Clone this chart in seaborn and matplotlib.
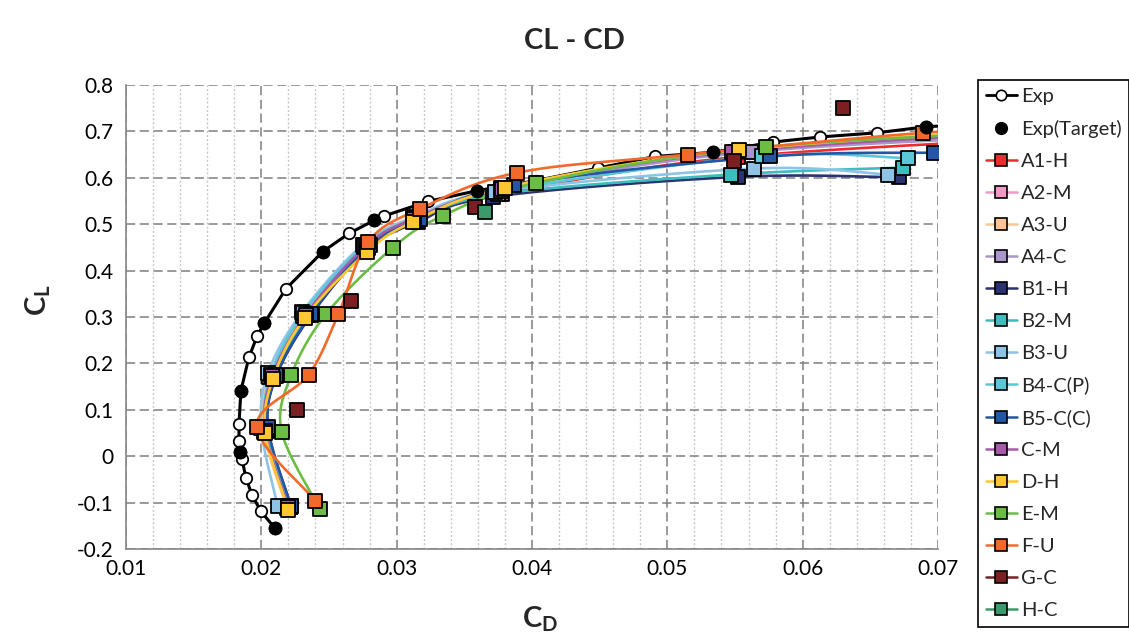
import numpy as np
import matplotlib
matplotlib.use("Agg")
import matplotlib.pyplot as plt
import seaborn as sns
from matplotlib.lines import Line2D
from matplotlib.ticker import MultipleLocator, FuncFormatter

sns.set_theme(style="white")
plt.rcParams['font.family'] = ['Lato', 'DejaVu Sans']
plt.rcParams['mathtext.fontset'] = 'custom'
plt.rcParams['mathtext.bf'] = 'Lato:bold'
plt.rcParams['mathtext.rm'] = 'Lato'
plt.rcParams['mathtext.it'] = 'Lato:italic'

# ---------------- data ----------------
exp_cd = [0.0210, 0.01997, 0.0193, 0.01886, 0.01857, 0.01842, 0.01835, 0.01835, 0.01849,
          0.01908, 0.01968, 0.0202, 0.02182, 0.02455, 0.02647, 0.02832, 0.0291, 0.0323,
          0.0359, 0.0403, 0.0449, 0.0491, 0.0534, 0.0578, 0.0613, 0.0655, 0.0691, 0.0730]
exp_cl = [-0.155, -0.119, -0.083, -0.046, -0.007, 0.010, 0.032, 0.070, 0.141,
          0.213, 0.258, 0.286, 0.361, 0.441, 0.480, 0.508, 0.518, 0.549,
          0.572, 0.594, 0.621, 0.646, 0.655, 0.677, 0.688, 0.697, 0.710, 0.716]
target_cd = [0.0210, 0.01842, 0.01849, 0.0202, 0.02455, 0.02832, 0.0359, 0.0534, 0.0691]
target_cl = [-0.155, 0.010, 0.141, 0.286, 0.441, 0.508, 0.572, 0.655, 0.710]

a1_cd = [0.0221, 0.0204, 0.0209, 0.0234, 0.0277, 0.0314, 0.0378, 0.0552, 0.0850]
a1_cl = [-0.110, 0.055, 0.172, 0.305, 0.452, 0.512, 0.565, 0.645, 0.695]
a2_cd = [0.0220, 0.0203, 0.0207, 0.0232, 0.0276, 0.0312, 0.0378, 0.0550, 0.0850]
a2_cl = [-0.108, 0.057, 0.175, 0.307, 0.455, 0.515, 0.575, 0.655, 0.710]
a3_cd = [0.0219, 0.0202, 0.0206, 0.0231, 0.0276, 0.0312, 0.0377, 0.0553, 0.0850]
a3_cl = [-0.112, 0.052, 0.170, 0.303, 0.450, 0.512, 0.578, 0.657, 0.715]
a4_cd = [0.0221, 0.0204, 0.0208, 0.0233, 0.0277, 0.0313, 0.0378, 0.0562, 0.0850]
a4_cl = [-0.109, 0.056, 0.173, 0.306, 0.452, 0.512, 0.574, 0.656, 0.700]
b1_cd = [0.0222, 0.0205, 0.0211, 0.0237, 0.0279, 0.0316, 0.0371, 0.0552, 0.0671]
b1_cl = [-0.108, 0.058, 0.172, 0.305, 0.448, 0.505, 0.559, 0.602, 0.601]
b2_cd = [0.0221, 0.0204, 0.0209, 0.0235, 0.0278, 0.0315, 0.0375, 0.0547, 0.0674]
b2_cl = [-0.109, 0.057, 0.174, 0.306, 0.452, 0.510, 0.565, 0.607, 0.622]
b3_cd = [0.0212, 0.0200, 0.0205, 0.0230, 0.0275, 0.0312, 0.0373, 0.0564, 0.0663]
b3_cl = [-0.107, 0.060, 0.180, 0.310, 0.456, 0.513, 0.570, 0.620, 0.607]
b4_cd = [0.0220, 0.0203, 0.0207, 0.0231, 0.0276, 0.0313, 0.0377, 0.0570, 0.0678]
b4_cl = [-0.109, 0.057, 0.176, 0.308, 0.454, 0.512, 0.572, 0.647, 0.642]
b5_cd = [0.0222, 0.0205, 0.0211, 0.0237, 0.0280, 0.0317, 0.0387, 0.0576, 0.0697]
b5_cl = [-0.108, 0.062, 0.174, 0.307, 0.455, 0.512, 0.585, 0.646, 0.654]
cm_cd = [0.0220, 0.0203, 0.0208, 0.0233, 0.0277, 0.0313, 0.0378, 0.0548, 0.0850]
cm_cl = [-0.110, 0.055, 0.172, 0.305, 0.452, 0.512, 0.575, 0.656, 0.710]
dh_cd = [0.0220, 0.0203, 0.02086, 0.0232, 0.0278, 0.0312, 0.0380, 0.0553, 0.0850]
dh_cl = [-0.115, 0.049, 0.167, 0.298, 0.440, 0.505, 0.579, 0.660, 0.720]
em_cd = [0.0243, 0.0215, 0.0222, 0.0248, 0.0297, 0.0334, 0.0403, 0.0573, 0.0850]
em_cl = [-0.113, 0.053, 0.174, 0.307, 0.449, 0.518, 0.589, 0.667, 0.710]
fu_cd = [0.0240, 0.01966, 0.0235, 0.0257, 0.0279, 0.0317, 0.0389, 0.0515, 0.0689, 0.0850]
fu_cl = [-0.096, 0.064, 0.176, 0.307, 0.462, 0.533, 0.611, 0.650, 0.697, 0.725]
gc_cd = [0.0226, 0.0266, 0.0358, 0.0549, 0.0630]
gc_cl = [0.100, 0.335, 0.538, 0.637, 0.751]
hc_cd = [0.0365]
hc_cl = [0.527]

names = ["A1-H", "A2-M", "A3-U", "A4-C", "B1-H", "B2-M", "B3-U", "B4-C(P)", "B5-C(C)",
         "C-M", "D-H", "E-M", "F-U", "G-C", "H-C"]
colors = ["#EE2B2F", "#F29AC6", "#FBC597", "#A897C8", "#2B3270", "#3DBDBD", "#8FC3E6",
          "#5CC8D7", "#2456A6", "#A55BA8", "#FDC82F", "#6CBD45", "#F26A2B", "#7B1F22", "#3A9A6D"]
cds = [a1_cd, a2_cd, a3_cd, a4_cd, b1_cd, b2_cd, b3_cd, b4_cd, b5_cd, cm_cd, dh_cd, em_cd, fu_cd, gc_cd, hc_cd]
cls = [a1_cl, a2_cl, a3_cl, a4_cl, b1_cl, b2_cl, b3_cl, b4_cl, b5_cl, cm_cl, dh_cl, em_cl, fu_cl, gc_cl, hc_cl]
has_line = [True] * 13 + [False, False]

# ---------------- helpers ----------------
W_PX, H_PX = 812.0, 464.0


def smooth(xs, ys, n=30):
    """Excel-like smoothed line (cubic Bezier / Catmull-Rom in screen space)."""
    xs = np.asarray(xs, float)
    ys = np.asarray(ys, float)
    if len(xs) < 3:
        return xs, ys
    P = np.column_stack([(xs - 0.01) / 0.06 * W_PX, (ys + 0.2) * H_PX])
    P = np.vstack([P[0], P, P[-1]])
    out = []
    t = np.linspace(0, 1, n, endpoint=False)[:, None]
    for i in range(1, len(P) - 2):
        p0, p1, p2, p3 = P[i - 1], P[i], P[i + 1], P[i + 2]
        c1 = p1 + (p2 - p0) / 6.0
        c2 = p2 - (p3 - p1) / 6.0
        b = (1 - t) ** 3 * p1 + 3 * (1 - t) ** 2 * t * c1 + 3 * (1 - t) * t ** 2 * c2 + t ** 3 * p2
        out.append(b)
    out.append(P[-2][None, :])
    B = np.vstack(out)
    return B[:, 0] / W_PX * 0.06 + 0.01, B[:, 1] / H_PX - 0.2


# ---------------- figure ----------------
fig = plt.figure(figsize=(11.29, 6.41), dpi=100)
ax = fig.add_axes([126 / 1129, 1 - 549 / 641, (938 - 126) / 1129, (549 - 85) / 641])

# Exp
sns.lineplot(x=exp_cd, y=exp_cl, sort=False, estimator=None, color="black", linewidth=2.2,
             ax=ax, legend=False, zorder=2)
sns.scatterplot(x=exp_cd, y=exp_cl, marker="o", s=68, color="white", edgecolor="black",
                linewidth=1.3, ax=ax, legend=False, zorder=3)

# models
for k, (nm, c, xs, ys, hl) in enumerate(zip(names, colors, cds, cls, has_line)):
    if hl:
        sx, sy = smooth(xs, ys)
        sns.lineplot(x=sx, y=sy, sort=False, estimator=None, color=c, linewidth=1.9,
                     ax=ax, legend=False, zorder=4 + k * 0.01)
for k, (nm, c, xs, ys) in enumerate(zip(names, colors, cds, cls)):
    sns.scatterplot(x=xs, y=ys, marker="s", s=110, color=c, edgecolor="black",
                    linewidth=1.3, ax=ax, legend=False, zorder=5 + k * 0.01)

# targets on top
sns.scatterplot(x=target_cd, y=target_cl, marker="o", s=90, color="black", edgecolor="black",
                linewidth=0.5, ax=ax, legend=False, zorder=6)

ax.set_xlim(0.01, 0.07)
ax.set_ylim(-0.2, 0.8)
ax.xaxis.set_major_locator(MultipleLocator(0.01))
ax.xaxis.set_minor_locator(MultipleLocator(0.002))
ax.yaxis.set_major_locator(MultipleLocator(0.1))
ax.xaxis.set_major_formatter(FuncFormatter(lambda v, p: f"{v:.2f}"))
ax.yaxis.set_major_formatter(FuncFormatter(lambda v, p: "0" if abs(v) < 1e-9 else f"{v:.1f}"))

ax.grid(which="major", axis="both", color="#7F7F7F", linestyle=(0, (6, 3)), linewidth=1.1)
ax.grid(which="minor", axis="x", color="#C8C8C8", linestyle=(0, (1.5, 1.5)), linewidth=1.0)
ax.set_axisbelow(True)
for sp in ["top", "right"]:
    ax.spines[sp].set_visible(False)
for sp in ["left", "bottom"]:
    ax.spines[sp].set_color("#868686")
    ax.spines[sp].set_linewidth(1.2)
ax.tick_params(axis="both", which="both", length=0, labelsize=15, colors="black")
ax.tick_params(axis="y", pad=9)
ax.tick_params(axis="x", pad=7)

ax.set_xlabel("")
ax.set_ylabel("")
fig.text(574 / 1129, 1 - 41 / 641, "CL - CD", ha="center", va="center", fontsize=21,
         fontweight="bold")
fig.text(540 / 1129, 1 - 619 / 641, r"$\mathbf{C_D}$", ha="center", va="center", fontsize=21)
fig.text(38 / 1129, 1 - 300 / 641, r"$\mathbf{C_L}$", ha="center", va="center", fontsize=21,
         rotation=90)

# legend
handles = [
    Line2D([], [], color="black", lw=2.0, marker="o", markersize=7.5, markerfacecolor="white",
           markeredgecolor="black", markeredgewidth=1.2),
    Line2D([], [], color="black", lw=0, marker="o", markersize=8.5, markerfacecolor="black",
           markeredgecolor="black"),
]
labels = ["Exp", "Exp(Target)"]
for nm, c in zip(names, colors):
    handles.append(Line2D([], [], color=c, lw=1.8, marker="s", markersize=9,
                          markerfacecolor=c, markeredgecolor="black", markeredgewidth=1.2))
    labels.append(nm)
leg = fig.legend(handles, labels, loc="upper left", bbox_to_anchor=(978 / 1129, 1 - 80 / 641),
                 frameon=True, fancybox=False, framealpha=1, edgecolor="black",
                 fontsize=14.5, handlelength=1.55, handletextpad=0.2, labelspacing=0.74,
                 borderpad=0.38, borderaxespad=0)
leg.get_frame().set_linewidth(1.2)

fig.savefig("out.png", dpi=100)
